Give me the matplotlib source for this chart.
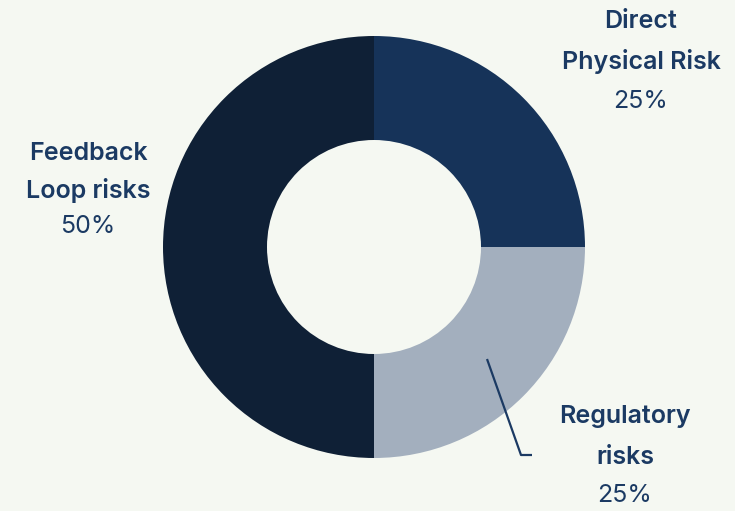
import matplotlib.pyplot as plt
from matplotlib import rc

rc('font', family=['Inter', 'DejaVu Sans'])

# data
names = [['Direct', 'Physical Risk'], ['Regulatory', 'risks'], ['Feedback', 'Loop risks']]
shares = [25, 25, 50]
colors = ['#163359', '#a3afbe', '#0f2036']

bg = '#f5f8f2'
txt = '#1b3a63'

fig = plt.figure(figsize=(7.35, 5.11), dpi=100, facecolor=bg)
ax = fig.add_axes([0, 0, 1, 1])
ax.set_facecolor(bg)

ax.pie(shares, colors=colors, startangle=90, counterclock=False,
       center=(374, 511 - 247), radius=211,
       wedgeprops=dict(width=104, linewidth=0), frame=True)
ax.set_xlim(0, 735)
ax.set_ylim(0, 511)
ax.set_aspect('equal')
ax.axis('off')

# label positions in pixels from top-left: x, line ys
spots = [(641, [21, 61, 101]), (625, [417, 458, 495]), (88, [153, 190, 226])]
for nm, s, (x, ys) in zip(names, shares, spots):
    for line, y in zip(nm, ys):
        ax.text(x, 511 - y, line, ha='center', va='center', fontsize=18,
                fontweight='semibold', color=txt)
    ax.text(x, 511 - ys[2], f'{s}%', ha='center', va='center', fontsize=18,
            color=txt)

# leader line for regulatory
ax.plot([487, 521, 532], [511 - 359, 511 - 455, 511 - 455], color=txt, lw=1.6,
        solid_capstyle='butt')

fig.savefig('out.png', dpi=100, facecolor=bg)
